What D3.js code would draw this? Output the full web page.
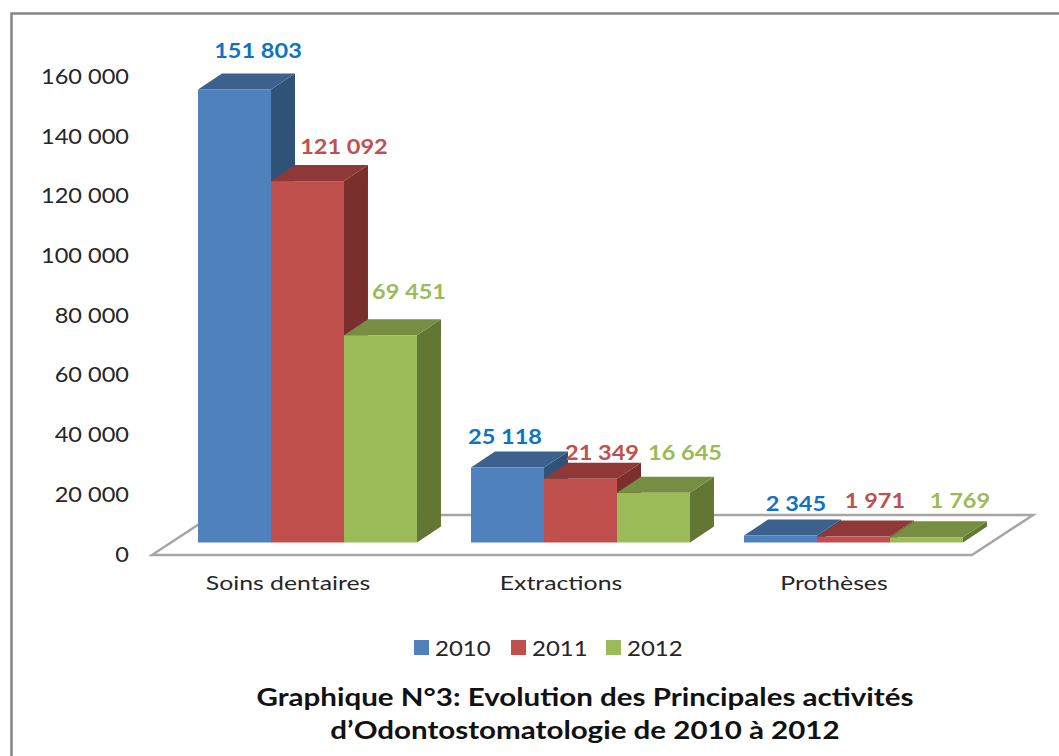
<!DOCTYPE html>
<html>
<head>
<meta charset="utf-8">
<script src="https://cdn.jsdelivr.net/npm/d3@7"></script>
<style>
html, body { margin: 0; padding: 0; background: #fff; }
svg { display: block; }
text { font-family: Lato, "Open Sans", sans-serif; }
</style>
</head>
<body>
<svg id="chart"></svg>
<script>
var categories = ["Soins dentaires", "Extractions", "Prothèses"];
var years = ["2010", "2011", "2012"];
var values2010 = [151803, 25118, 2345];
var values2011 = [121092, 21349, 1971];
var values2012 = [69451, 16645, 1769];
var yTicks = [0, 20000, 40000, 60000, 80000, 100000, 120000, 140000, 160000];
var titleLines = ["Graphique N°3: Evolution des Principales activités", "d’Odontostomatologie de 2010 à 2012"];

var width = 1059,
    height = 756,
    depthX = 24,
    depthY = -16,
    floorBack = {x: 61, y: -40};

// hand placed data labels, same order as the series [dx, dy] from top of bar front
var labelNudge = [
    [[23.5, -39], [-2.5, -31], [15.5, -32]],
    [[36.5, -34], [21.5, -26], [21.5, -36]],
    [[28.5, -44], [31.5, -40], [33.5, -37]]
];

var faceColors = ["#4f81bd", "#c0504d", "#9bbb59"],
    topColors = ["#3c618f", "#8e3937", "#768e42"],
    sideColors = ["#315278", "#7a2f2d", "#637633"],
    labelColors = ["#0f72c2", "#c0504d", "#9bbb59"];

var series = years.map(function(y, i) {
    return {year: y, index: i, values: [values2010, values2011, values2012][i]};
});

var xScale = d3.scaleBand()
    .domain(categories)
    .range([171, 990])
    .paddingInner(0.198)
    .paddingOuter(0.099);
var xInner = d3.scaleBand()
    .domain(years)
    .range([0, xScale.bandwidth()]);
var yScale = d3.scaleLinear()
    .domain([0, 160000])
    .range([542.5, 65]);

function spaced(d) {
    return d3.format(",")(d).replace(/,/g, " ");
}

// the picture is stretched sideways, so widen the glyphs by k
function stretch(selection, k) {
    selection.each(function() {
        d3.select(this)
            .attr("textLength", this.getComputedTextLength() * k)
            .attr("lengthAdjust", "spacingAndGlyphs");
    });
}

var svg = d3.select("#chart")
    .attr("width", width)
    .attr("height", height);

// frame, only left and top are in the picture
svg.append("path")
    .attr("d", "M11.5," + height + "V13.5H" + width)
    .attr("fill", "none")
    .attr("stroke", "#858585")
    .attr("stroke-width", 2.5);

// floor
var y0 = yScale(0) + 12.5;
svg.append("polygon")
    .attr("points", [[152, y0], [972, y0], [972 + floorBack.x, y0 + floorBack.y], [152 + floorBack.x, y0 + floorBack.y]].join(" "))
    .attr("fill", "#fff")
    .attr("stroke", "#a6a6a6")
    .attr("stroke-width", 2.5);

// y axis, labels only
var yAxis = d3.axisLeft(yScale)
    .tickValues(yTicks)
    .tickFormat(spaced)
    .tickSize(0)
    .tickPadding(0);
var yg = svg.append("g")
    .attr("transform", "translate(129,11.5)")
    .call(yAxis);
yg.select(".domain").remove();
yg.selectAll("text")
    .attr("fill", "#262626")
    .style("font-family", "Lato, sans-serif")
    .style("font-size", "22px")
    .call(stretch, 1.07);

// bars
categories.forEach(function(cat, c) {
    series.forEach(function(s) {
        var d = s.values[c],
            x0 = xScale(cat) + xInner(s.year),
            x1 = x0 + xInner.bandwidth(),
            top = yScale(d),
            bottom = yScale(0),
            g = svg.append("g").attr("class", "bar");

        g.append("polygon")
            .attr("points", [[x1, top], [x1 + depthX, top + depthY], [x1 + depthX, bottom + depthY], [x1, bottom]].join(" "))
            .attr("fill", sideColors[s.index]);
        g.append("polygon")
            .attr("points", [[x0, top], [x0 + depthX, top + depthY], [x1 + depthX, top + depthY], [x1, top]].join(" "))
            .attr("fill", topColors[s.index]);
        g.append("rect")
            .attr("x", x0)
            .attr("y", top)
            .attr("width", x1 - x0)
            .attr("height", bottom - top)
            .attr("fill", faceColors[s.index]);
    });
});

// data labels go on top of all bars
categories.forEach(function(cat, c) {
    series.forEach(function(s) {
        var d = s.values[c],
            nudge = labelNudge[s.index][c];
        svg.append("text")
            .attr("x", xScale(cat) + xInner(s.year) + xInner.bandwidth() / 2 + nudge[0])
            .attr("y", yScale(d) + nudge[1])
            .attr("dy", "0.35em")
            .attr("text-anchor", "middle")
            .attr("fill", labelColors[s.index])
            .style("font-size", "21px")
            .style("font-weight", "bold")
            .text(spaced(d))
            .call(stretch, 1.12);
    });
});

// category labels
var xAxis = d3.axisBottom(xScale)
    .tickSize(0)
    .tickPadding(0);
var xg = svg.append("g")
    .attr("transform", "translate(-19.5,575.5)")
    .call(xAxis);
xg.select(".domain").remove();
xg.selectAll("text")
    .attr("fill", "#262626")
    .style("font-family", "Lato, sans-serif")
    .style("font-size", "20px")
    .call(stretch, 1.24);

// legend
var legendX = d3.scaleOrdinal().domain(years).range([414, 511, 606]);
var legend = svg.selectAll(".legend")
    .data(years)
    .enter().append("g")
    .attr("class", "legend")
    .attr("transform", function(d) { return "translate(" + legendX(d) + ",640)"; });
legend.append("rect")
    .attr("width", 15)
    .attr("height", 15)
    .attr("fill", function(d, i) { return faceColors[i]; });
legend.append("text")
    .attr("x", 21)
    .attr("y", 8)
    .attr("dy", "0.35em")
    .attr("fill", "#262626")
    .style("font-size", "22px")
    .text(function(d) { return d; })
    .call(stretch, 1.09);

// title
svg.selectAll(".title")
    .data(titleLines)
    .enter().append("text")
    .attr("class", "title")
    .attr("x", 585)
    .attr("y", function(d, i) { return 698 + i * 33; })
    .attr("dy", "0.35em")
    .attr("text-anchor", "middle")
    .attr("fill", "#111")
    .style("font-size", "24px")
    .style("font-weight", "bold")
    .text(function(d) { return d; })
    .call(stretch, 1.23);
</script>
</body>
</html>
